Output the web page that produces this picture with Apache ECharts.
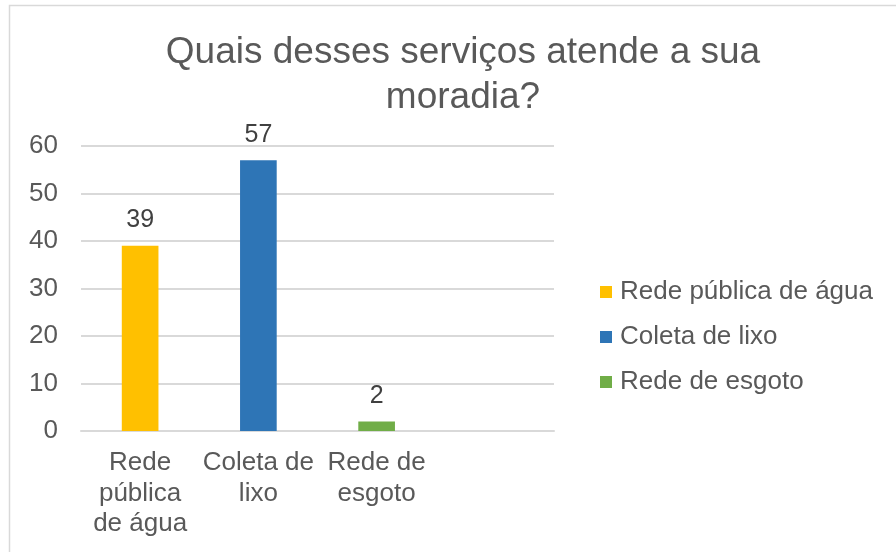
<!DOCTYPE html>
<html><head><meta charset="utf-8">
<script src="https://cdn.jsdelivr.net/npm/echarts@6/dist/echarts.min.js"></script>
<style>html,body{margin:0;padding:0;background:#fff}#c{width:896px;height:552px}</style>
</head><body><div id="c"></div>
<script>
const categories = ['Rede\npública\nde água', 'Coleta de\nlixo', 'Rede de\nesgoto', ''];
const seriesNames = ['Rede pública de água', 'Coleta de lixo', 'Rede de esgoto'];
const seriesValues = [39, 57, 2];
const colors = ['#FFC000', '#2E75B6', '#70AD47'];
const yTicks = [0, 10, 20, 30, 40, 50, 60];

const FONT = '"Liberation Sans", Arial, sans-serif';
const series = seriesNames.map((name, i) => ({
  name: name,
  type: 'bar',
  stack: 'all',
  barWidth: '31%',
  itemStyle: { color: colors[i] },
  label: { show: true, position: 'top', color: '#404040', fontSize: 25, fontFamily: FONT, distance: 13 },
  data: categories.map((c, j) => j === i ? seriesValues[i] : '-')
}));

const chart = echarts.init(document.getElementById('c'));
chart.setOption({
  animation: false,
  graphic: [{ type: 'rect', shape: { x: 9.5, y: 5.5, width: 900, height: 560 }, style: { fill: 'none', stroke: '#d9d9d9', lineWidth: 1.5 } }],
  title: {
    text: 'Quais desses serviços atende a sua\nmoradia?',
    left: 458, top: 25, textAlign: 'center',
    textStyle: { color: '#595959', fontSize: 37, fontWeight: 'normal', fontFamily: FONT, lineHeight: 45 }
  },
  legend: {
    orient: 'vertical', left: 600, top: 277, itemGap: 15, padding: 0,
    itemWidth: 12, itemHeight: 12, icon: 'rect',
    data: seriesNames,
    textStyle: { color: '#595959', fontSize: 26, fontFamily: FONT, lineHeight: 30, padding: [0, 0, 0, 3] }
  },
  grid: { left: 81, right: 342, top: 146, bottom: 121 },
  xAxis: {
    type: 'category', data: categories,
    axisLine: { lineStyle: { color: '#d9d9d9', width: 2 } },
    axisTick: { show: false },
    axisLabel: { color: '#595959', fontSize: 26, fontFamily: FONT, lineHeight: 30.5, margin: 17, interval: 0 }
  },
  yAxis: {
    type: 'value', min: yTicks[0], max: yTicks[yTicks.length - 1], interval: 10,
    axisLine: { show: false }, axisTick: { show: false },
    splitLine: { lineStyle: { color: '#d9d9d9', width: 2 } },
    axisLabel: { color: '#595959', fontSize: 26, fontFamily: FONT, margin: 23 }
  },
  series: series
});
</script></body></html>
